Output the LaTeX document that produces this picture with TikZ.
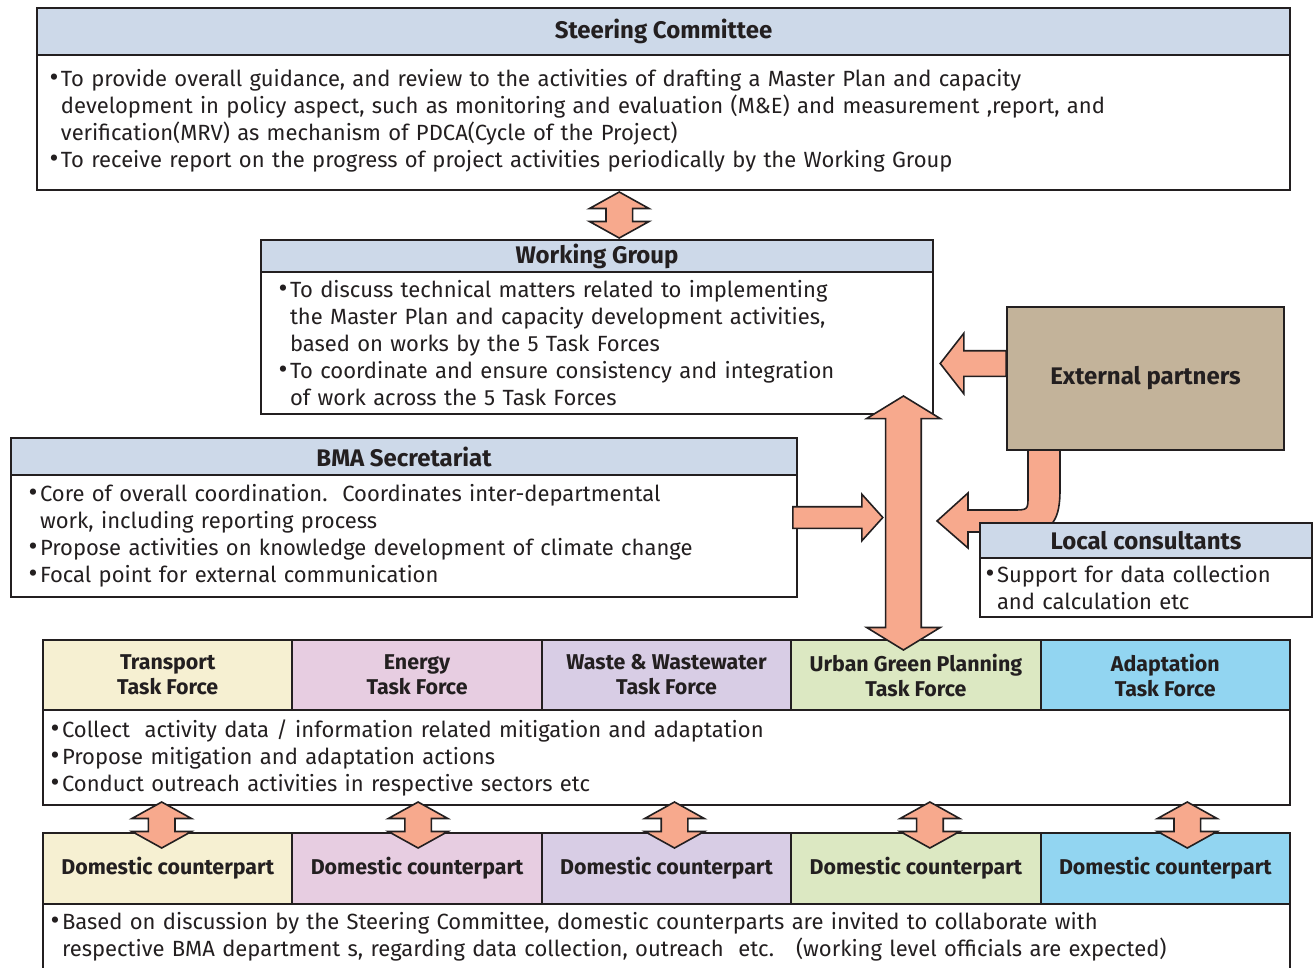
\documentclass[tikz,border=0pt]{standalone}
\usepackage{fontspec}
\setmainfont{Fira Sans}
\usepackage{xcolor}
\definecolor{line}{HTML}{231F20}
\definecolor{headblue}{HTML}{CDD9E9}
\definecolor{salmon}{HTML}{F7A98D}
\definecolor{partner}{HTML}{C3B39A}
\definecolor{tfyellow}{HTML}{F6F0D2}
\definecolor{tfpink}{HTML}{E7CDE1}
\definecolor{tflilac}{HTML}{D8CDE5}
\definecolor{tfgreen}{HTML}{DCE8C2}
\definecolor{tfblue}{HTML}{92D5F1}
\usetikzlibrary{positioning, calc, shapes.arrows}
\newcommand{\bodyfont}{\fontsize{22}{27}\selectfont}
\newcommand{\headfont}{\fontsize{24}{25}\selectfont\bfseries}
\newcommand{\cellfont}{\fontsize{21.4}{25}\selectfont\bfseries}
\newcommand{\Bul}{\makebox[9pt][l]{\hspace{2pt}\makebox[0pt]{\scalebox{1.25}{\textbullet}}}}
\newcommand{\Ind}{\hspace*{9pt}}
\tikzstyle{Head} = [
draw=line,
line width=2pt,
fill=headblue,
text=line,
font=\headfont,
inner sep=0pt,
outer sep=0pt]
\tikzstyle{Body} = [
draw=line,
line width=2pt,
fill=white,
text=line,
font=\bodyfont,
align=left,
inner ysep=0pt,
outer sep=0pt]
\tikzstyle{Cell} = [
draw=line,
line width=2pt,
text=line,
font=\cellfont,
align=center,
inner sep=0pt,
outer sep=0pt,
minimum width=249.4pt]
\tikzstyle{DArrow} = [
double arrow,
draw=line,
line width=1.6pt,
fill=salmon,
inner xsep=0pt,
inner ysep=12.5pt,
double arrow head extend=16.5pt,
double arrow tip angle=122,
minimum height=46pt,
rotate=90]
\tikzstyle{SArrow} = [
single arrow,
draw=line,
line width=1.6pt,
fill=salmon,
inner xsep=0pt]

\begin{document}
\begin{tikzpicture}[x=1pt, y=-1pt]
    \useasboundingbox (0,0) rectangle (1314,967);

    % Steering Committee
    \node [Head, minimum width=1253pt, minimum height=47pt] (sc-head) at (663.5,31.5) {Steering Committee};
    \node [Body, below=0pt of sc-head, inner xsep=15pt, text width=1223pt, minimum height=135pt] (sc) {%
        \Bul To provide overall guidance, and review to the activities of drafting a Master Plan and capacity\\
        \Ind development in policy aspect, such as monitoring and evaluation (M\&E) and measurement ,report, and\\
        \Ind verification(MRV) as mechanism of PDCA(Cycle of the Project)\\
        \Bul To receive report on the progress of project activities periodically by the Working Group\vspace{4pt}};

    % Working Group
    \node [Head, minimum width=672pt, minimum height=32pt] (wg-head) at (597,256) {Working Group};
    \node [Body, below=0pt of wg-head, inner xsep=20pt, text width=632pt, minimum height=142pt] (wg) {%
        \Bul To discuss technical matters related to implementing\\
        \Ind the Master Plan and capacity development activities,\\
        \Ind based on works by the 5 Task Forces\\
        \Bul To coordinate and ensure consistency and integration\\
        \Ind of work across the 5 Task Forces};

    % External partners
    \node [draw=line, line width=2pt, fill=partner, text=line, font=\headfont, outer sep=0pt,
        minimum width=277pt, minimum height=143pt] (ep) at (1145.5,378.5) {External partners};

    % BMA Secretariat
    \node [Head, minimum width=786pt, minimum height=37pt] (bma-head) at (404,456.5) {BMA Secretariat};
    \node [Body, below=0pt of bma-head, inner xsep=20pt, text width=746pt, minimum height=122pt] (bma) {%
        \Bul Core of overall coordination.\ \ Coordinates inter-departmental\\
        \Ind work, including reporting process\\
        \Bul Propose activities on knowledge development of climate change\\
        \Bul Focal point for external communication};

    % Task Forces
    \node [Cell, fill=tfyellow, minimum height=70pt] (tf-transport) at (167.7,675) {Transport\\Task Force};
    \node [Cell, fill=tfpink, minimum height=70pt, right=0pt of tf-transport] (tf-energy) {Energy\\Task Force};
    \node [Cell, fill=tflilac, minimum height=70pt, right=0pt of tf-energy] (tf-waste) {Waste \& Wastewater\\Task Force};
    \node [Cell, fill=tfgreen, minimum height=70pt, right=0pt of tf-waste] (tf-green) {Urban Green Planning\\Task Force};
    \node [Cell, fill=tfblue, minimum height=70pt, right=0pt of tf-green] (tf-adapt) {Adaptation\\Task Force};
    \node [Body, anchor=north west, inner xsep=10pt, text width=1227pt, minimum height=95pt] (tf) at (tf-transport.south west) {%
        \Bul Collect\ \ activity data / information related mitigation and adaptation\\
        \Bul Propose mitigation and adaptation actions\\
        \Bul Conduct outreach activities in respective sectors etc};

    % Domestic counterparts
    \node [Cell, fill=tfyellow, minimum height=71pt] (dc-transport) at (167.7,868.5) {Domestic counterpart};
    \node [Cell, fill=tfpink, minimum height=71pt, right=0pt of dc-transport] (dc-energy) {Domestic counterpart};
    \node [Cell, fill=tflilac, minimum height=71pt, right=0pt of dc-energy] (dc-waste) {Domestic counterpart};
    \node [Cell, fill=tfgreen, minimum height=71pt, right=0pt of dc-waste] (dc-green) {Domestic counterpart};
    \node [Cell, fill=tfblue, minimum height=71pt, right=0pt of dc-green] (dc-adapt) {Domestic counterpart};
    \node [Body, anchor=north west, inner xsep=10pt, text width=1227pt, minimum height=65pt] (dc) at (dc-transport.south west) {%
        \Bul Based on discussion by the Steering Committee, domestic counterparts are invited to collaborate with\\
        \Ind respective BMA department s, regarding data collection, outreach\ \ etc.\ \ \ (working level officials are expected)};

    % curved arrow from External partners
    \begin{scope}[shift={(ep.south west)}]
        \draw [line width=1.6pt, draw=line, fill=salmon, line join=miter]
            (21,0) -- (21,46) .. controls (21,60) .. (5,60) -- (-39,60) -- (-39,43) -- (-70,71)
            -- (-39,98) -- (-39,82) -- (22,82) .. controls (46,82) and (53,68) .. (53,40) -- (53,0) -- cycle;
    \end{scope}

    % Local consultants
    \node [Head, minimum width=332pt, minimum height=35pt] (lc-head) at (1146,540.5) {Local consultants};
    \node [Body, below=0pt of lc-head, inner xsep=8pt, text width=316pt, minimum height=59pt] (lc) {%
        \Bul Support for data collection\\
        \Ind and calculation etc};

    % arrows
    \node [DArrow] (sc-wg) at ($(sc.south)!.5!(wg-head.north)+(-11,0)$) {};
    \node [DArrow, minimum height=254pt, inner ysep=17pt, double arrow head extend=19pt,
        double arrow tip angle=117] (wg-tf) at ($(wg.south east)!.5!(tf-green.north)+(-21,-4)$) {};
    \node [SArrow, anchor=tail, minimum height=90pt, inner ysep=10pt, single arrow head extend=12.5pt,
        single arrow tip angle=96] (bma-wg) at ($(bma.east)+(-5,-18.5)$) {};
    \node [SArrow, anchor=tail, rotate=180, minimum height=66pt, inner ysep=12pt, single arrow head extend=17.5pt,
        single arrow tip angle=104] (ep-wg) at ($(ep.west)+(0,-15)$) {};
    \node [DArrow] (tf-dc1) at ($(dc-transport.north)+(-6,-8)$) {};
    \node [DArrow] (tf-dc2) at ($(dc-energy.north)+(1,-8)$) {};
    \node [DArrow] (tf-dc3) at ($(dc-waste.north)+(8,-8)$) {};
    \node [DArrow] (tf-dc4) at ($(dc-green.north)+(14,-8)$) {};
    \node [DArrow] (tf-dc5) at ($(dc-adapt.north)+(22,-8)$) {};
\end{tikzpicture}
\end{document}
